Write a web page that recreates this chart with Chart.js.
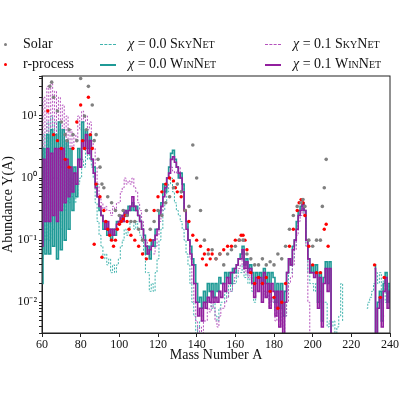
<!DOCTYPE html>
<html>
<head>
<meta charset="utf-8">
<script src="https://cdn.jsdelivr.net/npm/chart.js@4"></script>
<style>
  html, body { margin: 0; padding: 0; background: #fff; }
  #wrap { position: relative; width: 400px; height: 400px; font-family: "Liberation Serif", serif; }
  #legend { position: absolute; left: 0; top: 36px; width: 400px; font-size: 14px; color: #111; }
  .it { position: absolute; white-space: nowrap; }
  .sw { display: inline-block; width: 16px; vertical-align: middle; margin-right: 12px; }
  .sc { font-variant: small-caps; }
</style>
</head>
<body>
<div id="wrap">
  <canvas id="c" width="400" height="400"></canvas>
  <div id="legend"></div>
</div>
<script>
// Mass numbers A = 60 .. 240
const massStart = 60;
const massEnd = 240;

// chi = 0.0 WinNet
const winnet00 = [
  0.02, 3, 0.06, 5, 0.06, 6, 0.08, 5, 0.05, 8,
  0.07, 6, 0.1, 4, 0.15, 3, 0.3, 1.5, 0.5, 3,
  2, 8, 4, 6, 3, 5, 2, 1.5, 0.8, 0.5,
  0.3, 0.25, 0.15, 0.2, 0.12, 0.15, 0.1, 0.15, 0.12, 0.2,
  0.18, 0.25, 0.2, 0.3, 0.25, 0.35, 0.3, 0.4, 0.3, 0.35,
  0.25, 0.2, 0.15, 0.12, 0.06, 0.08, 0.05, 0.1, 0.08, 0.15,
  0.15, 0.3, 0.4, 0.8, 0.6, 1, 1.5, 2.5, 2.8, 2,
  1.5, 1, 1.2, 0.8, 0.3, 0.2, 0.1, 0.08, 0.05, 0.04,
  0.02, 0.01, 0.012, 0.008, 0.015, 0.01, 0.02, 0.015, 0.02, 0.012,
  0.02, 0.015, 0.025, 0.02, 0.02, 0.03, 0.025, 0.03, 0.02, 0.035,
  0.03, 0.04, 0.05, 0.06, 0.08, 0.04, 0.05, 0.035, 0.04, 0.03,
  0.02, 0.03, 0.025, 0.03, 0.02, 0.035, 0.02, 0.03, 0.015, 0.03,
  0.025, 0.01, 0.02, 0.008, 0.02, 0.006, 0.015, 0.03, 0.05, 0.04,
  0.08, 0.1, 0.2, 0.3, 0.35, 0.4, 0.3, 0.1, 0.05, 0.03,
  0.04, 0.03, 0.04, 0.01, 0.03, 0.005, 0.025, 0.045, 0.02, 0.045,
  0.003, null, null, null, null, null, null, null, null, null,
  null, null, null, null, null, null, null, null, null, null,
  null, null, 0.04, 0.003, 0.01, 0.015, 0.005, 0.02, 0.03, 0.01,
  0.02
];

// chi = 0.1 WinNet
const winnet01 = [
  0.08, 2, 0.2, 3, 0.2, 2.5, 0.25, 3, 0.2, 3,
  0.3, 3, 0.4, 2, 0.5, 1.5, 0.6, 1.2, 0.8, 2,
  1.5, 4, 3, 5, 2.5, 4, 2, 1.2, 0.7, 0.5,
  0.35, 0.25, 0.2, 0.15, 0.2, 0.12, 0.15, 0.12, 0.15, 0.18,
  0.2, 0.25, 0.2, 0.3, 0.25, 0.3, 0.35, 0.5, 0.35, 0.3,
  0.25, 0.2, 0.15, 0.1, 0.08, 0.06, 0.07, 0.08, 0.1, 0.12,
  0.15, 0.25, 0.35, 0.5, 0.7, 1, 1.2, 2, 2.2, 1.8,
  1.5, 1.2, 1, 0.6, 0.3, 0.15, 0.1, 0.06, 0.04, 0.02,
  0.01, 0.006, 0.008, 0.005, 0.01, 0.008, 0.012, 0.01, 0.015, 0.01,
  0.012, 0.01, 0.015, 0.012, 0.02, 0.015, 0.025, 0.02, 0.03, 0.03,
  0.035, 0.04, 0.05, 0.05, 0.07, 0.035, 0.045, 0.03, 0.035, 0.02,
  0.012, 0.025, 0.015, 0.025, 0.01, 0.03, 0.012, 0.02, 0.008, 0.02,
  0.015, 0.006, 0.015, 0.004, 0.015, 0.003, 0.01, 0.03, 0.05, 0.04,
  0.07, 0.1, 0.15, 0.25, 0.3, 0.38, 0.3, 0.1, 0.05, 0.03,
  0.03, 0.025, 0.03, 0.008, 0.025, 0.004, 0.02, 0.035, 0.015, 0.035,
  0.002, null, null, null, null, null, null, null, null, null,
  null, null, null, null, null, null, null, null, null, null,
  null, null, 0.035, 0.003, 0.008, 0.012, 0.004, 0.015, 0.025, 0.008,
  0.015
];

// chi = 0.0 SkyNet
const skynet00 = [
  0.05, 5, 0.1, 8, 0.1, 10, 0.15, 8, 0.1, 6,
  0.15, 3, 0.3, 2, 0.4, 1, 0.5, 0.4, 0.5, 0.8,
  1, 2, 1.5, 3, 2, 3, 1.5, 1, 0.4, 0.2,
  0.12, 0.08, 0.05, 0.06, 0.04, 0.05, 0.03, 0.04, 0.03, 0.04,
  0.05, 0.08, 0.1, 0.15, 0.12, 0.15, 0.2, 0.2, 0.15, 0.2,
  0.15, 0.12, 0.1, 0.06, 0.03, 0.03, 0.015, 0.02, 0.015, 0.03,
  0.05, 0.1, 0.15, 0.3, 0.4, 0.6, 0.8, 1, 0.6, 0.4,
  0.3, 0.25, 0.2, 0.15, 0.1, 0.06, 0.04, 0.02, 0.01, 0.006,
  0.003, 0.004, 0.005, 0.006, 0.008, 0.01, 0.012, 0.01, 0.008, 0.01,
  0.006, 0.005, 0.008, 0.01, 0.01, 0.015, 0.012, 0.02, 0.015, 0.02,
  0.02, 0.025, 0.03, 0.03, 0.04, 0.025, 0.03, 0.02, 0.025, 0.015,
  0.01, 0.02, 0.015, 0.02, 0.01, 0.015, 0.012, 0.015, 0.01, 0.012,
  0.01, 0.008, 0.01, 0.005, 0.008, 0.003, 0.006, 0.015, 0.03, 0.03,
  0.05, 0.08, 0.15, 0.25, 0.3, 0.35, 0.25, 0.08, 0.03, 0.02,
  0.02, 0.015, 0.02, 0.01, 0.015, 0.008, 0.01, 0.01, 0.004, 0.005,
  0.004, 0.005, 0.003, 0.004, 0.006, 0.02, 0.005, null, null, null,
  null, null, null, null, null, null, 0.005, null, 0.008, 0.01,
  0.012, 0.015, 0.02, 0.03, 0.02, 0.03, 0.015, 0.025, 0.01, 0.02,
  0.01
];

// chi = 0.1 SkyNet
const skynet01 = [
  0.5, 20, 0.6, 30, 0.8, 35, 1, 25, 1, 20,
  1.5, 15, 2, 10, 3, 6, 3, 5, 4, 10,
  6, 12, 8, 10, 6, 8, 4, 3, 1.5, 0.8,
  0.5, 0.4, 0.3, 0.35, 0.3, 0.3, 0.25, 0.35, 0.3, 0.4,
  0.4, 0.6, 0.7, 1, 0.8, 0.9, 0.8, 1, 0.7, 0.6,
  0.4, 0.3, 0.2, 0.12, 0.1, 0.06, 0.05, 0.06, 0.06, 0.08,
  0.12, 0.2, 0.3, 0.5, 0.7, 1, 1.2, 1.5, 1.3, 1.2,
  1.3, 1.5, 1.2, 0.8, 0.3, 0.2, 0.1, 0.05, 0.02, 0.01,
  0.005, 0.003, 0.004, 0.003, 0.005, 0.005, 0.008, 0.007, 0.01, 0.008,
  0.005, 0.004, 0.006, 0.008, 0.008, 0.01, 0.012, 0.015, 0.015, 0.02,
  0.025, 0.03, 0.035, 0.04, 0.05, 0.03, 0.035, 0.025, 0.03, 0.02,
  0.015, 0.02, 0.015, 0.02, 0.01, 0.02, 0.012, 0.015, 0.008, 0.012,
  0.01, 0.005, 0.01, 0.004, 0.008, 0.003, 0.006, 0.01, 0.02, 0.025,
  0.04, 0.07, 0.12, 0.2, 0.25, 0.3, 0.25, 0.08, 0.01, 0.001,
  null
];

// Solar abundances [A, Y]
const solarA = [64, 65, 66, 68, 70, 72, 73, 74, 76, 78, 80, 82, 83, 84, 86, 87, 88, 89, 90, 91,
  92, 94, 96, 98, 100, 102, 104, 106, 108, 110, 112, 114, 116, 118, 120, 122, 124, 126, 128, 130,
  132, 134, 136, 138, 140, 142, 144, 146, 148, 150, 152, 154, 156, 158, 160, 162, 164, 166, 168, 170,
  172, 174, 176, 178, 180, 182, 184, 186, 188, 190, 192, 194, 195, 196, 198, 200, 202, 204, 205, 206, 207];
const solarY = [30, 35, 20, 12, 8, 5, 4, 6, 5, 4, 40, 10, 6, 30, 15, 4, 5, 2, 1.5, 0.8,
  0.7, 0.5, 0.4, 0.3, 0.25, 0.3, 0.25, 0.2, 0.2, 0.15, 0.1, 0.3, 0.15, 0.2, 0.3, 0.25, 0.4, 0.5, 0.7, 0.8,
  0.6, 0.3, 0.35, 3.4, 1, 0.3, 0.1, 0.06, 0.07, 0.05, 0.06, 0.04, 0.06, 0.07, 0.08, 0.1, 0.1, 0.06, 0.05, 0.04,
  0.04, 0.05, 0.04, 0.045, 0.04, 0.06, 0.05, 0.08, 0.15, 0.25, 0.35, 0.4, 0.45, 0.35, 0.1, 0.08, 0.1, 0.1, 0.35, 0.7, 2];

// r-process residuals [A, Y]
const rprocA = [63, 66, 68, 70, 72, 74, 76, 78, 80, 81, 82, 84, 85, 86, 87, 88, 90, 91, 92, 93,
  94, 95, 96, 97, 98, 99, 100, 101, 102, 103, 104, 105, 106, 108, 110, 112, 114, 116, 118, 120,
  122, 124, 126, 128, 129, 130, 132, 134, 136, 138, 140, 142, 143, 144, 145, 146, 147, 148, 150, 152,
  154, 156, 158, 160, 162, 163, 164, 165, 166, 168, 170, 172, 174, 176, 178, 180, 182, 184, 186, 188,
  190, 192, 193, 194, 195, 196, 198, 200, 202, 204, 206, 207, 208, 232, 235, 237];
const rprocY = [12, 5, 4, 3, 2, 1.5, 3, 8, 15, 4, 3, 20, 5, 3, 0.086, 0.8, 0.5, 0.053, 0.3, 0.2,
  0.15, 0.12, 0.1, 0.08, 0.1, 0.15, 0.18, 0.2, 0.22, 0.25, 0.2, 0.15, 0.12, 0.1, 0.08, 0.06, 0.05, 0.1, 0.3, 0.5,
  0.6, 0.8, 1, 0.9, 0.7, 0.6, 0.5, 0.3, 0.2, 0.12, 0.1, 0.08, 0.05, 0.06, 0.04, 0.07, 0.05, 0.06, 0.05, 0.06,
  0.07, 0.08, 0.08, 0.1, 0.1, 0.12, 0.12, 0.1, 0.07, 0.03, 0.02, 0.025, 0.02, 0.025, 0.015, 0.012, 0.008, 0.01, 0.02, 0.08,
  0.15, 0.3, 0.4, 0.45, 0.4, 0.25, 0.08, 0.04, 0.03, 0.03, 0.15, 0.18, 0.08, 0.04, 0.012, 0.025];

const xTicks = [60, 80, 100, 120, 140, 160, 180, 200, 220, 240];

const teal = '#1f9a96';
const purple = '#921f9e';
const tealLight = '#3fb3ad';
const purpleLight = '#b553bd';

function steps(values) {
  return values.map((v, i) => ({ x: massStart + i, y: v }));
}
function pairs(xs, ys) {
  return xs.map((x, i) => ({ x: x, y: ys[i] }));
}

function stepSet(label, values, color, dash, width) {
  return {
    label: label, data: steps(values), type: 'line', stepped: 'middle',
    borderColor: color, borderWidth: width, borderDash: dash,
    pointRadius: 0, fill: false, spanGaps: false
  };
}

const sup = { '-2': '10\u207B\u00B2', '-1': '10\u207B\u00B9', '0': '10\u2070', '1': '10\u00B9' };

const framePlugin = {
  id: 'frame',
  afterDraw(chart) {
    const a = chart.chartArea, ctx = chart.ctx;
    ctx.save();
    ctx.strokeStyle = '#222';
    ctx.lineWidth = 1;
    ctx.strokeRect(a.left, a.top, a.right - a.left, a.bottom - a.top);
    ctx.restore();
  }
};

// first dataset is drawn on top
new Chart(document.getElementById('c').getContext('2d'), {
  type: 'scatter',
  data: {
    datasets: [
      { label: 'Solar', data: pairs(solarA, solarY), backgroundColor: '#808080', borderWidth: 0, pointRadius: 1.8 },
      { label: 'r-process', data: pairs(rprocA, rprocY), backgroundColor: '#ff0000', borderWidth: 0, pointRadius: 1.7 },
      stepSet('χ = 0.1 WinNet', winnet01, purple, [], 1.6),
      stepSet('χ = 0.0 WinNet', winnet00, teal, [], 1.6),
      stepSet('χ = 0.1 SkyNet', skynet01, purpleLight, [2, 1.5], 1),
      stepSet('χ = 0.0 SkyNet', skynet00, tealLight, [2, 1.5], 1)
    ]
  },
  options: {
    responsive: false,
    animation: false,
    layout: { padding: { top: 76, right: 7, left: 0, bottom: 36 } },
    plugins: { legend: { display: false }, tooltip: { enabled: false } },
    scales: {
      x: {
        type: 'linear', min: 60, max: 240,
        afterBuildTicks: ax => { ax.ticks = xTicks.map(v => ({ value: v })); },
        grid: { drawOnChartArea: false, tickLength: 4, color: '#222' },
        border: { color: '#222' },
        ticks: { color: '#111', font: { family: 'Liberation Serif', size: 12 }, padding: 1, maxRotation: 0 },
        title: { display: true, text: 'Mass Number A', color: '#111', font: { family: 'Liberation Serif', size: 14 }, padding: { top: 0, bottom: 0 } },
        afterFit: ax => { ax.height = 31; }
      },
      y: {
        type: 'logarithmic', min: 0.0032, max: 44,
        grid: { drawOnChartArea: false, tickLength: 3, color: '#222' },
        border: { color: '#222' },
        ticks: {
          color: '#111', font: { family: 'Liberation Serif', size: 12 }, padding: 2, autoSkip: false,
          callback: v => {
            const e = Math.log10(v);
            return Math.abs(e - Math.round(e)) < 1e-6 && sup[String(Math.round(e))] ? sup[String(Math.round(e))] : '';
          }
        },
        title: { display: true, text: 'Abundance Y(A)', color: '#111', font: { family: 'Liberation Serif', size: 14 }, padding: 0 },
        afterFit: ax => { ax.width = 42; }
      }
    }
  },
  plugins: [framePlugin]
});

// legend
const items = [
  { x: 4, y: 0, kind: 'dot', color: '#808080', html: 'Solar' },
  { x: 4, y: 20, kind: 'dot', color: '#ff0000', html: 'r-process' },
  { x: 100, y: 0, kind: 'dash', color: tealLight, html: '<i>χ</i> = 0.0 <span class="sc">SkyNet</span>' },
  { x: 100, y: 20, kind: 'line', color: teal, html: '<i>χ</i> = 0.0 <span class="sc">WinNet</span>' },
  { x: 265, y: 0, kind: 'dash', color: purpleLight, html: '<i>χ</i> = 0.1 <span class="sc">SkyNet</span>' },
  { x: 265, y: 20, kind: 'line', color: purple, html: '<i>χ</i> = 0.1 <span class="sc">WinNet</span>' }
];
const legend = document.getElementById('legend');
items.forEach(it => {
  const d = document.createElement('div');
  d.className = 'it';
  d.style.left = it.x + 'px';
  d.style.top = it.y + 'px';
  let sw;
  if (it.kind === 'dot') {
    sw = '<span style="display:inline-block;width:3px;height:3px;border-radius:2px;vertical-align:middle;margin-right:16px;background:' + it.color + '"></span>';
  } else {
    const style = it.kind === 'dash' ? 'border-top:1.5px dashed ' + it.color : 'border-top:2px solid ' + it.color;
    sw = '<span class="sw" style="' + style + '"></span>';
  }
  d.innerHTML = sw + it.html;
  legend.appendChild(d);
});
</script>
</body>
</html>
